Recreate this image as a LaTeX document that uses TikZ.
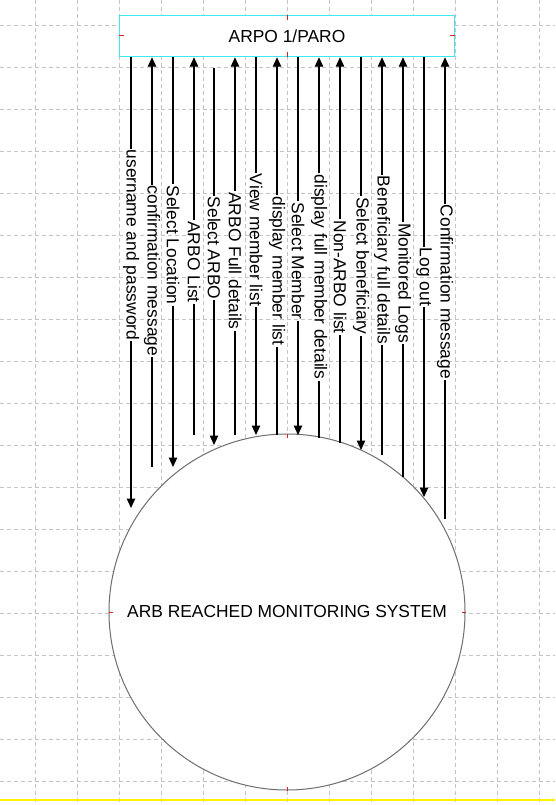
\documentclass[tikz,border=0pt]{standalone}
\usepackage{fontspec}
\setmainfont{Liberation Sans}
\usetikzlibrary{arrows.meta}
\definecolor{boxcyan}{HTML}{3EE8EE}
\definecolor{gridgray}{HTML}{C4C4C4}
\definecolor{circgray}{HTML}{6E6E6E}
\definecolor{handlered}{HTML}{E02020}
\definecolor{pageyellow}{HTML}{FFF200}

\begin{document}
\begin{tikzpicture}[x=1pt, y=-1pt,
    gridline/.style={gridgray, line width=0.9pt, dash pattern=on 4pt off 3pt},
    flowlabel/.style={rotate=-90, inner sep=1pt, font=\fontsize{17.4pt}{20pt}\selectfont},
    flow/.style={line width=1.2pt},
    arrowed/.style={flow, -{Triangle[width=8.5pt, length=9.5pt]}},
    handle/.style={handlered, line width=1pt}
]
    \useasboundingbox (0,0) rectangle (555,805);
    \fill[white] (0,0) rectangle (555,805);
    \foreach \gx in {35,77,...,539} \draw[gridline] (\gx,0) -- (\gx,805);
    \foreach \gy in {25,67,...,781} \draw[gridline] (0,\gy) -- (555,\gy);
    \draw[pageyellow, line width=2pt] (0,800) -- (555,800);

    \node[draw=boxcyan, fill=white, line width=1.5pt, minimum width=335pt, minimum height=41pt, font=\fontsize{17.4pt}{20pt}\selectfont] (arpo) at (287,36) {ARPO 1/PARO};
    \node[circle, draw=circgray, fill=white, line width=1pt, minimum size=356pt, inner sep=0pt, font=\fontsize{17.4pt}{20pt}\selectfont] (arb) at (287,612) {ARB REACHED MONITORING SYSTEM};

    \draw[handle] (arpo.north) -- ++(0,5);
    \draw[handle] (arpo.south) -- ++(0,-5);
    \draw[handle] (arpo.west) -- ++(5,0);
    \draw[handle] (arpo.east) -- ++(-5,0);
    \draw[handle] (arb.north) -- ++(0,4);
    \draw[handle] (arb.south) -- ++(0,-4);
    \draw[handle] (arb.west) -- ++(4,0);
    \draw[handle] (arb.east) -- ++(-4,0);

    \coordinate (eUser) at (131,508);
    \coordinate (eConfirm) at (152,467);
    \coordinate (eLocation) at (173,467);
    \coordinate (eArboList) at (194,435);
    \coordinate (sSelArbo) at (214,68);
    \coordinate (eSelArbo) at (214,445);
    \coordinate (eArboFull) at (235,435);
    \coordinate (eViewMem) at (256,435);
    \coordinate (eDispMem) at (277,435);
    \coordinate (eSelMem) at (298,435);
    \coordinate (eDispFull) at (319,438);
    \coordinate (eNonArbo) at (340,443);
    \coordinate (eSelBen) at (361,450);
    \coordinate (eBenFull) at (382,455);
    \coordinate (eLogs) at (403,477);
    \coordinate (eLogout) at (424,497);
    \coordinate (eConfirmB) at (445,519);

    \node[flowlabel] (lUser) at (131,245) {username and password};
    \node[flowlabel] (lConfirm) at (152,271) {confirmation message};
    \node[flowlabel] (lLocation) at (173,245) {Select Location};
    \node[flowlabel] (lArboList) at (194,262) {ARBO List};
    \node[flowlabel] (lSelArbo) at (214,248) {Select ARBO};
    \node[flowlabel] (lArboFull) at (235,261) {ARBO Full details};
    \node[flowlabel] (lViewMem) at (256,240) {View member list};
    \node[flowlabel] (lDispMem) at (277,271) {display member list};
    \node[flowlabel] (lSelMem) at (298,261) {Select Member};
    \node[flowlabel] (lDispFull) at (319,277) {display full member details};
    \node[flowlabel] (lNonArbo) at (340,277) {Non-ARBO list};
    \node[flowlabel] (lSelBen) at (361,266) {Select beneficiary};
    \node[flowlabel] (lBenFull) at (382,260) {Beneficiary full details};
    \node[flowlabel] (lLogs) at (403,283) {Monitored Logs};
    \node[flowlabel] (lLogout) at (424,277) {Log out};
    \node[flowlabel] (lConfirmB) at (445,292) {Confirmation message};

    \draw[flow] (arpo.south -| lUser) -- (lUser.west);
    \draw[arrowed] (lUser.east) -- (eUser);
    \draw[arrowed] (lConfirm.west) -- (arpo.south -| lConfirm);
    \draw[flow] (eConfirm) -- (lConfirm.east);
    \draw[flow] (arpo.south -| lLocation) -- (lLocation.west);
    \draw[arrowed] (lLocation.east) -- (eLocation);
    \draw[arrowed] (lArboList.west) -- (arpo.south -| lArboList);
    \draw[flow] (eArboList) -- (lArboList.east);
    \draw[flow] (sSelArbo) -- (lSelArbo.west);
    \draw[arrowed] (lSelArbo.east) -- (eSelArbo);
    \draw[arrowed] (lArboFull.west) -- (arpo.south -| lArboFull);
    \draw[flow] (eArboFull) -- (lArboFull.east);
    \draw[flow] (arpo.south -| lViewMem) -- (lViewMem.west);
    \draw[arrowed] (lViewMem.east) -- (eViewMem);
    \draw[arrowed] (lDispMem.west) -- (arpo.south -| lDispMem);
    \draw[flow] (eDispMem) -- (lDispMem.east);
    \draw[flow] (arpo.south -| lSelMem) -- (lSelMem.west);
    \draw[arrowed] (lSelMem.east) -- (eSelMem);
    \draw[arrowed] (lDispFull.west) -- (arpo.south -| lDispFull);
    \draw[flow] (eDispFull) -- (lDispFull.east);
    \draw[arrowed] (lNonArbo.west) -- (arpo.south -| lNonArbo);
    \draw[flow] (eNonArbo) -- (lNonArbo.east);
    \draw[flow] (arpo.south -| lSelBen) -- (lSelBen.west);
    \draw[arrowed] (lSelBen.east) -- (eSelBen);
    \draw[arrowed] (lBenFull.west) -- (arpo.south -| lBenFull);
    \draw[flow] (eBenFull) -- (lBenFull.east);
    \draw[arrowed] (lLogs.west) -- (arpo.south -| lLogs);
    \draw[flow] (eLogs) -- (lLogs.east);
    \draw[flow] (arpo.south -| lLogout) -- (lLogout.west);
    \draw[arrowed] (lLogout.east) -- (eLogout);
    \draw[arrowed] (lConfirmB.west) -- (arpo.south -| lConfirmB);
    \draw[flow] (eConfirmB) -- (lConfirmB.east);
\end{tikzpicture}
\end{document}
